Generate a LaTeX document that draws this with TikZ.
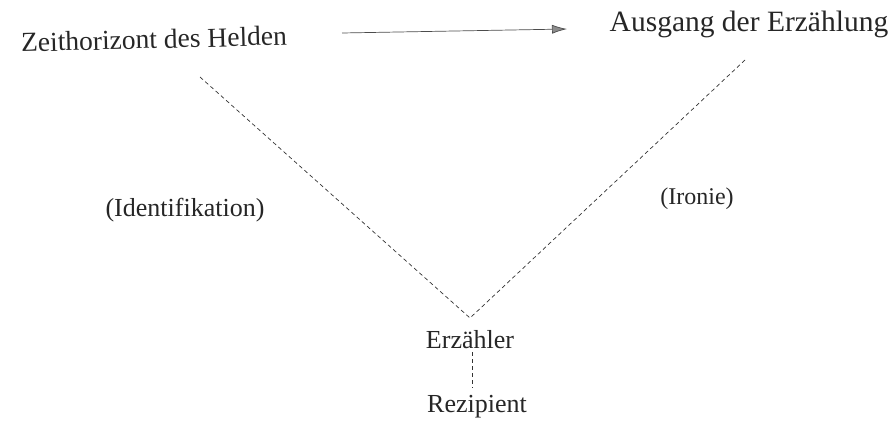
\documentclass[tikz,border=0pt]{standalone}
\usepackage{fontspec}
\setmainfont{Liberation Serif}
\usetikzlibrary{arrows.meta}
\begin{document}
\begin{tikzpicture}[x=1pt,y=-1pt,
  lbl/.style={font=\fontsize{26}{30}\selectfont, inner sep=0pt, text=black!85},
  dline/.style={draw=black!80, line width=0.7pt, dash pattern=on 4pt off 3pt},
  arr/.style={draw=black!70, line width=0.7pt, -{Latex[length=15pt,width=9pt,fill=black!45]}}]
\useasboundingbox (0,0) rectangle (888,423);
\node[lbl, rotate=1.5, font=\fontsize{27.5}{30}\selectfont] (zeit) at (154,39) {Zeithorizont des Helden};
\node[lbl, font=\fontsize{29.5}{32}\selectfont] (ausg) at (749,24) {Ausgang der Erzählung};
\node[lbl] (ident) at (185,210) {(Identifikation)};
\node[lbl, font=\fontsize{24}{28}\selectfont] (iron) at (697,199) {(Ironie)};
\node[lbl] (erz) at (470,340) {Erzähler};
\node[lbl] (rez) at (477,407) {Rezipient};
\coordinate (a1) at (342,33);
\coordinate (a2) at (567,29);
\coordinate (l1) at (200,77);
\coordinate (r1) at (745,60);
\coordinate (apex) at (470,318);
\draw[arr] (a1) -- (a2);
\draw[dline] (l1) -- (apex) -- (r1);
\draw[dline] (472,352) -- (472,388);
\end{tikzpicture}
\end{document}
